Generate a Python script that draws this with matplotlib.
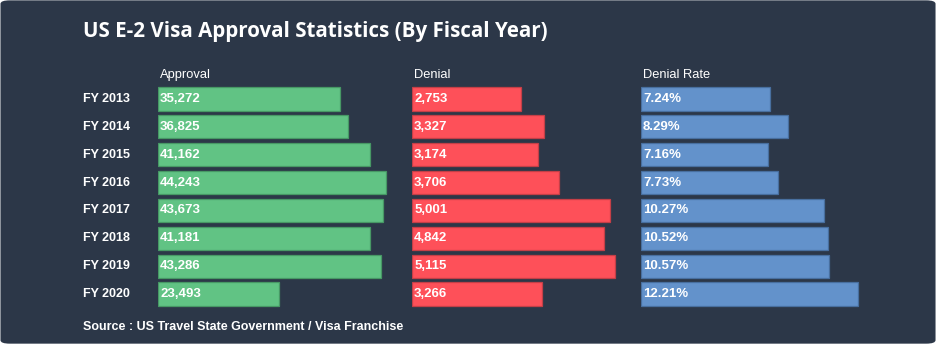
import matplotlib as mpl
mpl.use('Agg')
import matplotlib.pyplot as plt
from matplotlib.patches import FancyBboxPatch

years = ['FY 2013', 'FY 2014', 'FY 2015', 'FY 2016', 'FY 2017', 'FY 2018', 'FY 2019', 'FY 2020']
approval = [35272, 36825, 41162, 44243, 43673, 41181, 43286, 23493]
denial = [2753, 3327, 3174, 3706, 5001, 4842, 5115, 3266]
denial_rate = [7.24, 8.29, 7.16, 7.73, 10.27, 10.52, 10.57, 12.21]

bg = '#2c3748'
W, H = 936, 344
fig = plt.figure(figsize=(W / 100, H / 100), dpi=100, facecolor='white')

card = FancyBboxPatch((0.0005, 0.001), 0.999, 0.998, boxstyle='round,pad=0,rounding_size=0.01',
                      transform=fig.transFigure, facecolor=bg, edgecolor='none', zorder=-10)
fig.patches.append(card)

# row layout in pixels
top_px, pitch = 99, 27.86
y0 = top_px - pitch / 2
y1 = y0 + pitch * len(years)


def panel(x_px, w_px, scale, values, labels, color, edge, header):
    # scale = pixels per data unit
    ax = fig.add_axes([x_px / W, 1 - y1 / H, w_px / W, (y1 - y0) / H])
    ax.set_facecolor('none')
    ax.set_xlim(0, w_px / scale)
    ax.set_ylim(len(years) - 0.5, -0.5)
    ax.barh(range(len(years)), values, height=0.83, color=color, edgecolor=edge, linewidth=0.9)
    for i, lab in enumerate(labels):
        ax.annotate(lab, (0, i), xytext=(1.5, 0), textcoords='offset points',
                    ha='left', va='center', color='white', fontsize=9.5,
                    fontweight='bold', family='Liberation Sans')
    ax.axis('off')
    fig.text((x_px + 2) / W, 1 - 75 / H, header, color='white', fontsize=9.3,
             family='Liberation Sans', ha='left', va='center')
    return ax


panel(158, 260, 228 / 44243, approval, [f'{v:,}' for v in approval],
      '#61c384', '#479865', 'Approval')
panel(412, 215, 203 / 5115, denial, [f'{v:,}' for v in denial],
      '#fe5059', '#c43f47', 'Denial')
panel(641, 240, 217 / 12.21, denial_rate, [f'{v:.2f}%' for v in denial_rate],
      '#6392cb', '#486f9f', 'Denial Rate')

for i, yr in enumerate(years):
    fig.text(83 / W, 1 - (top_px + i * pitch) / H, yr, color='white', fontsize=9,
             fontweight='bold', family='Liberation Sans', ha='left', va='center')

fig.text(83 / W, 1 - 32 / H, 'US E-2 Visa Approval Statistics (By Fiscal Year)', color='white',
         fontsize=14.8, fontweight='bold', family='Open Sans', ha='left', va='center')

fig.text(83 / W, 1 - 327 / H, 'Source : US Travel State Government / Visa Franchise', color='white',
         fontsize=9, fontweight='bold', family='Liberation Sans', ha='left', va='center')

fig.savefig('out.png', dpi=100, facecolor='white')
